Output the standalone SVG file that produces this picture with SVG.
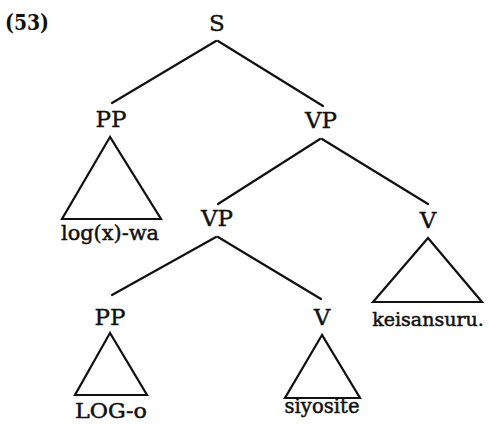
<svg xmlns="http://www.w3.org/2000/svg" width="489" height="425" viewBox="0 0 489 425">
<style>
.lab{font-family:"DejaVu Serif","Liberation Serif",serif;font-size:23px;fill:#111;stroke:#111;stroke-width:0.4;text-anchor:middle}
.leaf{font-family:"DejaVu Serif","Liberation Serif",serif;font-size:21px;fill:#111;stroke:#111;stroke-width:0.5;text-anchor:middle}
.num{font-family:"DejaVu Serif","Liberation Serif",serif;font-size:22px;font-weight:bold;fill:#111}
.ln{stroke:#111;stroke-width:2.2;fill:none;stroke-linecap:round}
.tri{stroke:#111;stroke-width:2.2;fill:none;stroke-linejoin:miter}
</style>
<rect width="489" height="425" fill="#fff"/>
<text class="num" x="5" y="30" textLength="44" lengthAdjust="spacingAndGlyphs">(53)</text>
<g id="connectors">
<line class="ln" x1="216" y1="41" x2="112" y2="103"/>
<line class="ln" x1="218" y1="41" x2="323" y2="106"/>
<line class="ln" x1="320" y1="139" x2="218" y2="204"/>
<line class="ln" x1="322" y1="139" x2="428" y2="204"/>
<line class="ln" x1="216" y1="237" x2="112" y2="295"/>
<line class="ln" x1="218" y1="237" x2="321" y2="299"/>
</g>
<g id="S"><text class="lab" x="217" y="31">S</text></g>
<g id="PP1"><text class="lab" x="111" y="127">PP</text>
<polygon class="tri" points="110,137 62,219 161,219"/>
<text class="leaf" x="110" y="240" textLength="98" lengthAdjust="spacingAndGlyphs">log(x)-wa</text></g>
<g id="VP1"><text class="lab" x="321" y="128">VP</text></g>
<g id="VP2"><text class="lab" x="217" y="226">VP</text></g>
<g id="V1"><text class="lab" x="428" y="228">V</text>
<polygon class="tri" points="428,238 373,302 482,302"/>
<text class="leaf" x="428" y="326" style="font-size:19px">keisansuru.</text></g>
<g id="PP2"><text class="lab" x="110" y="325">PP</text>
<polygon class="tri" points="110,333 75,395 147,395"/>
<text class="leaf" x="111" y="418" textLength="72" lengthAdjust="spacingAndGlyphs">LOG-o</text></g>
<g id="V2"><text class="lab" x="322" y="325">V</text>
<polygon class="tri" points="322,335 285,398 360,398"/>
<text class="leaf" x="322" y="413" textLength="75" lengthAdjust="spacingAndGlyphs">siyosite</text></g>
</svg>
